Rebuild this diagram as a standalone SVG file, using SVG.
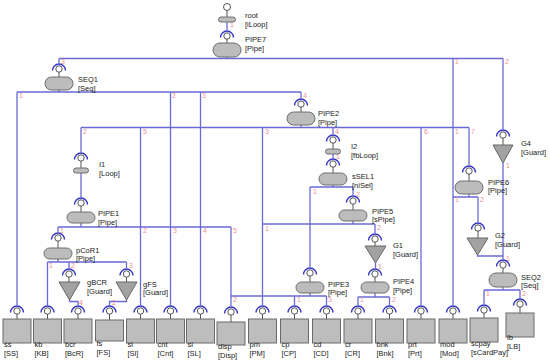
<svg xmlns="http://www.w3.org/2000/svg" xmlns:xlink="http://www.w3.org/1999/xlink" width="550" height="361" viewBox="0 0 550 361">
<style>
.ln{stroke:#6a6ad6;stroke-width:1.3;fill:none}
.arc{stroke:#3434c8;stroke-width:1.4;fill:none}
.pt{fill:#fff;stroke:#555;stroke-width:1}
.stem{stroke:#555;stroke-width:1}
.pill{fill:#bcbcbc;stroke:#6e6e6e;stroke-width:1}
.box{fill:#bdbdbd;stroke:#6a6a6a;stroke-width:1}
.tri{fill:#a2a2a2;stroke:#666;stroke-width:1}
.t{font-family:"Liberation Sans",Arial,sans-serif;font-size:7.5px;fill:#222}
.n{font-family:"Liberation Sans",Arial,sans-serif;font-size:7px;fill:#f09090}
</style>
<defs>
<g id="port"><path class="arc" d="M-6.5,1.5 A6.5,6.5 0 0 1 6.5,1.5"/><circle class="pt" r="3.2"/></g>
</defs>
<rect width="550" height="361" fill="#fff"/>
<g id="connectors">
<path class="ln" d="M227,22V30 M227,57V58.5 M59,58.5H503 M59,58.5V63 M453,58.5V305 M503,58.5V129"/>
<path class="ln" d="M59,90V92 M17,92H301 M17,92V305 M170.5,92V305 M200.5,92V305 M301,92V98"/>
<path class="ln" d="M301,125V127.5 M81,127.5H469 M81,127.5V152 M140.5,127.5V305 M262.5,127.5V305 M333,127.5V134 M421,127.5V305 M469,127.5V165"/>
<path class="ln" d="M81,173V197 M81,223V227 M58,227H231 M58,227V232 M231,227V306"/>
<path class="ln" d="M58,259V262 M47.5,262H126.5 M47.5,262V305 M69,262V268 M126.5,262V268"/>
<path class="ln" d="M69.5,300V301.5H78V305 M126.5,300V301.5H109.5V305"/>
<path class="ln" d="M333,154V158 M333,185V187 M310,187H353 M310,187V267 M353,187V195"/>
<path class="ln" d="M353,221V224 M262.5,224H375 M375,224V233 M375.5,263V268"/>
<path class="ln" d="M375,293V297 M358,297H389.5 M358,297V305 M389.5,297V305"/>
<path class="ln" d="M310,293V296 M231,296H326.5 M294.5,296V305 M326.5,296V305"/>
<path class="ln" d="M469,194V197 M453,197H478 M478,197V222 M477.5,255V256H503 M503,163V259"/>
<path class="ln" d="M503,287V290 M484,290H520 M484,290V304 M520,290V298"/>
<text class="n" x="230" y="27">1</text>
<text class="n" x="61" y="64">3</text><text class="n" x="455" y="64">1</text><text class="n" x="505" y="64">2</text>
<text class="n" x="19" y="98">1</text><text class="n" x="172" y="98">2</text><text class="n" x="202" y="98">3</text><text class="n" x="303" y="98">4</text>
<text class="n" x="83" y="134">2</text><text class="n" x="143" y="134">5</text><text class="n" x="265" y="134">3</text><text class="n" x="335" y="134">4</text><text class="n" x="424" y="134">6</text><text class="n" x="455" y="134">1</text><text class="n" x="471" y="134">7</text>
<text class="n" x="336" y="159">1</text>
<text class="n" x="313" y="194">1</text><text class="n" x="356" y="196.5">2</text>
<text class="n" x="455" y="202">1</text><text class="n" x="480" y="202">2</text>
<text class="n" x="506" y="168">1</text><text class="n" x="506" y="261">1</text>
<text class="n" x="60" y="233">1</text><text class="n" x="143" y="233">2</text><text class="n" x="173" y="233">3</text><text class="n" x="203" y="233">4</text><text class="n" x="233" y="233">5</text>
<text class="n" x="265" y="231">1</text><text class="n" x="377" y="230">2</text>
<text class="n" x="49" y="268">1</text><text class="n" x="71" y="268">2</text><text class="n" x="129" y="268">3</text>
<text class="n" x="79" y="305">4</text><text class="n" x="112" y="305">2</text>
<text class="n" x="378" y="269">1</text>
<text class="n" x="233" y="302">2</text><text class="n" x="297" y="302">1</text><text class="n" x="328" y="302">3</text>
<text class="n" x="360" y="302">1</text><text class="n" x="392" y="302">2</text>
<text class="n" x="486" y="296">1</text><text class="n" x="522" y="296">2</text>
</g>
<g id="root"><circle class="pt" cx="227" cy="7" r="3.5"/><line class="stem" x1="227" y1="10.5" x2="227" y2="17"/><rect class="pill" x="218.5" y="17" width="17" height="5" rx="2.5"/><text class="t" x="245" y="18">root</text><text class="t" x="245" y="27">[iLoop]</text></g>
<g id="PIPE7"><use xlink:href="#port" x="227" y="36"/><line class="stem" x1="227" y1="39" x2="227" y2="43"/><rect class="pill" x="213" y="43" width="28" height="14" rx="7"/><text class="t" x="245" y="42.3">PIPE7</text><text class="t" x="245" y="50.8">[Pipe]</text></g>
<g id="SEQ1"><use xlink:href="#port" x="59" y="69"/><line class="stem" x1="59" y1="72" x2="59" y2="77"/><rect class="pill" x="45" y="77" width="28" height="13" rx="6.5"/><text class="t" x="78" y="82.3">SEQ1</text><text class="t" x="78" y="90.8">[Seq]</text></g>
<g id="PIPE2"><use xlink:href="#port" x="301" y="104"/><line class="stem" x1="301" y1="107" x2="301" y2="112"/><rect class="pill" x="287" y="112" width="28" height="13" rx="6.5"/><text class="t" x="318" y="116.3">PIPE2</text><text class="t" x="318" y="124.8">[Pipe]</text></g>
<g id="I1"><use xlink:href="#port" x="81" y="158"/><line class="stem" x1="81" y1="161" x2="81" y2="168"/><rect class="pill" x="73.5" y="168" width="15" height="5" rx="2.5"/><text class="t" x="99" y="167">I1</text><text class="t" x="99" y="176">[Loop]</text></g>
<g id="PIPE1"><use xlink:href="#port" x="81" y="203"/><line class="stem" x1="81" y1="206" x2="81" y2="212"/><rect class="pill" x="67" y="212" width="28" height="11" rx="5.5"/><text class="t" x="98" y="216.3">PIPE1</text><text class="t" x="98" y="224.8">[Pipe]</text></g>
<g id="pCoR1"><use xlink:href="#port" x="58" y="238"/><line class="stem" x1="58" y1="241" x2="58" y2="248"/><rect class="pill" x="44" y="248" width="28" height="11" rx="5.5"/><text class="t" x="76" y="252.8">pCoR1</text><text class="t" x="76" y="261.3">[Pipe]</text></g>
<g id="gBCR"><use xlink:href="#port" x="69" y="274"/><line class="stem" x1="69" y1="277" x2="69" y2="282"/><polygon class="tri" points="59,282 80,282 69.5,300"/><text class="t" x="87" y="285">gBCR</text><text class="t" x="87" y="294">[Guard]</text></g>
<g id="gFS"><use xlink:href="#port" x="126.5" y="274"/><line class="stem" x1="126.5" y1="277" x2="126.5" y2="282"/><polygon class="tri" points="116,282 137,282 126.5,300"/><text class="t" x="143" y="286.8">gFS</text><text class="t" x="143" y="295.3">[Guard]</text></g>
<g id="I2"><use xlink:href="#port" x="333" y="140"/><line class="stem" x1="333" y1="143" x2="333" y2="149"/><rect class="pill" x="325.5" y="149" width="15" height="5" rx="2.5"/><text class="t" x="351" y="149">I2</text><text class="t" x="351" y="158">[fbLoop]</text></g>
<g id="sSEL1"><use xlink:href="#port" x="333" y="164"/><line class="stem" x1="333" y1="167" x2="333" y2="173"/><rect class="pill" x="319" y="173" width="28" height="12" rx="6"/><text class="t" x="352" y="179.3">sSEL1</text><text class="t" x="352" y="187.8">[niSel]</text></g>
<g id="PIPE5"><use xlink:href="#port" x="353" y="201"/><line class="stem" x1="353" y1="204" x2="353" y2="210"/><rect class="pill" x="339" y="210" width="28" height="11" rx="5.5"/><text class="t" x="372" y="213.8">PIPE5</text><text class="t" x="372" y="222.3">[sPipe]</text></g>
<g id="G4"><use xlink:href="#port" x="503" y="135"/><line class="stem" x1="503" y1="138" x2="503" y2="145"/><polygon class="tri" points="493,145 513,145 503,163"/><text class="t" x="521" y="146">G4</text><text class="t" x="521" y="155">[Guard]</text></g>
<g id="PIPE6"><use xlink:href="#port" x="469" y="171"/><line class="stem" x1="469" y1="174" x2="469" y2="181"/><rect class="pill" x="455" y="181" width="28" height="13" rx="6.5"/><text class="t" x="488" y="184.8">PIPE6</text><text class="t" x="488" y="193.3">[Pipe]</text></g>
<g id="G2"><use xlink:href="#port" x="478" y="228"/><line class="stem" x1="478" y1="231" x2="478" y2="238"/><polygon class="tri" points="467,238 488,238 477.5,255"/><text class="t" x="495" y="238">G2</text><text class="t" x="495" y="247">[Guard]</text></g>
<g id="SEQ2"><use xlink:href="#port" x="503" y="265"/><line class="stem" x1="503" y1="268" x2="503" y2="273"/><rect class="pill" x="489" y="273" width="28" height="14" rx="7"/><text class="t" x="521" y="279.8">SEQ2</text><text class="t" x="521" y="288.3">[Seq]</text></g>
<g id="G1"><use xlink:href="#port" x="375" y="239"/><line class="stem" x1="375" y1="242" x2="375" y2="246"/><polygon class="tri" points="365,246 386,246 375.5,263"/><text class="t" x="393" y="248">G1</text><text class="t" x="393" y="257">[Guard]</text></g>
<g id="PIPE3"><use xlink:href="#port" x="310" y="273"/><line class="stem" x1="310" y1="276" x2="310" y2="282"/><rect class="pill" x="296" y="282" width="28" height="11" rx="5.5"/><text class="t" x="328" y="286.8">PIPE3</text><text class="t" x="328" y="295.3">[Pipe]</text></g>
<g id="PIPE4"><use xlink:href="#port" x="375" y="274"/><line class="stem" x1="375" y1="277" x2="375" y2="282"/><rect class="pill" x="361" y="282" width="28" height="11" rx="5.5"/><text class="t" x="393" y="284.3">PIPE4</text><text class="t" x="393" y="292.8">[Pipe]</text></g>
<g id="ss"><use xlink:href="#port" x="17" y="311"/><line class="stem" x1="17" y1="314" x2="17" y2="319"/><rect class="box" x="3" y="319" width="28" height="24"/><text class="t" x="4" y="347.3">ss</text><text class="t" x="4" y="355.8">[SS]</text></g>
<g id="kb"><use xlink:href="#port" x="47.5" y="311"/><line class="stem" x1="47.5" y1="314" x2="47.5" y2="319"/><rect class="box" x="33.5" y="319" width="28" height="24"/><text class="t" x="34.5" y="347.3">kb</text><text class="t" x="34.5" y="355.8">[KB]</text></g>
<g id="bcr"><use xlink:href="#port" x="78" y="311"/><line class="stem" x1="78" y1="314" x2="78" y2="319"/><rect class="box" x="64" y="319" width="28" height="24"/><text class="t" x="65" y="347.3">bcr</text><text class="t" x="65" y="355.8">[BcR]</text></g>
<g id="fs"><use xlink:href="#port" x="109.5" y="311"/><line class="stem" x1="109.5" y1="314" x2="109.5" y2="320"/><rect class="box" x="95.5" y="320" width="28" height="21"/><text class="t" x="96.5" y="346.3">fs</text><text class="t" x="96.5" y="354.8">[FS]</text></g>
<g id="sl"><use xlink:href="#port" x="140.5" y="311"/><line class="stem" x1="140.5" y1="314" x2="140.5" y2="319"/><rect class="box" x="126.5" y="319" width="28" height="24"/><text class="t" x="127.5" y="347.3">sl</text><text class="t" x="127.5" y="355.8">[Sl]</text></g>
<g id="cnt"><use xlink:href="#port" x="170.5" y="311"/><line class="stem" x1="170.5" y1="314" x2="170.5" y2="319"/><rect class="box" x="156.5" y="319" width="28" height="24"/><text class="t" x="157.5" y="347.3">cnt</text><text class="t" x="157.5" y="355.8">[Cnt]</text></g>
<g id="sl2"><use xlink:href="#port" x="200.5" y="311"/><line class="stem" x1="200.5" y1="314" x2="200.5" y2="319"/><rect class="box" x="186.5" y="319" width="28" height="24"/><text class="t" x="187.5" y="347.3">sl</text><text class="t" x="187.5" y="355.8">[SL]</text></g>
<g id="disp"><use xlink:href="#port" x="231" y="312"/><line class="stem" x1="231" y1="315" x2="231" y2="322"/><rect class="box" x="217" y="322" width="28" height="23"/><text class="t" x="218" y="349.3">disp</text><text class="t" x="218" y="357.8">[Disp]</text></g>
<g id="pm"><use xlink:href="#port" x="262.5" y="311"/><line class="stem" x1="262.5" y1="314" x2="262.5" y2="319"/><rect class="box" x="248.5" y="319" width="28" height="24"/><text class="t" x="249.5" y="347.3">pm</text><text class="t" x="249.5" y="355.8">[PM]</text></g>
<g id="cp"><use xlink:href="#port" x="294.5" y="311"/><line class="stem" x1="294.5" y1="314" x2="294.5" y2="319"/><rect class="box" x="280.5" y="319" width="28" height="24"/><text class="t" x="281.5" y="347.3">cp</text><text class="t" x="281.5" y="355.8">[CP]</text></g>
<g id="cd"><use xlink:href="#port" x="326.5" y="311"/><line class="stem" x1="326.5" y1="314" x2="326.5" y2="319"/><rect class="box" x="312.5" y="319" width="28" height="24"/><text class="t" x="313.5" y="347.3">cd</text><text class="t" x="313.5" y="355.8">[CD]</text></g>
<g id="cr"><use xlink:href="#port" x="358" y="311"/><line class="stem" x1="358" y1="314" x2="358" y2="319"/><rect class="box" x="344" y="319" width="28" height="24"/><text class="t" x="345" y="347.3">cr</text><text class="t" x="345" y="355.8">[CR]</text></g>
<g id="bnk"><use xlink:href="#port" x="389.5" y="311"/><line class="stem" x1="389.5" y1="314" x2="389.5" y2="319"/><rect class="box" x="375.5" y="319" width="28" height="24"/><text class="t" x="376.5" y="347.3">bnk</text><text class="t" x="376.5" y="355.8">[Bnk]</text></g>
<g id="prt"><use xlink:href="#port" x="421" y="311"/><line class="stem" x1="421" y1="314" x2="421" y2="319"/><rect class="box" x="407" y="319" width="28" height="24"/><text class="t" x="408" y="347.3">prt</text><text class="t" x="408" y="355.8">[Prt]</text></g>
<g id="mod"><use xlink:href="#port" x="453" y="311"/><line class="stem" x1="453" y1="314" x2="453" y2="319"/><rect class="box" x="439" y="319" width="28" height="24"/><text class="t" x="440" y="347.3">mod</text><text class="t" x="440" y="355.8">[Mod]</text></g>
<g id="scpay"><use xlink:href="#port" x="484" y="310"/><line class="stem" x1="484" y1="313" x2="484" y2="318"/><rect class="box" x="470" y="318" width="28" height="24"/><text class="t" x="471" y="346.3">scpay</text><text class="t" x="471" y="354.8">[sCardPay]</text></g>
<g id="lb"><use xlink:href="#port" x="520" y="304"/><line class="stem" x1="520" y1="307" x2="520" y2="313"/><rect class="box" x="506" y="313" width="28" height="24"/><text class="t" x="507" y="340.3">lb</text><text class="t" x="507" y="348.8">[LB]</text></g>
</svg>
